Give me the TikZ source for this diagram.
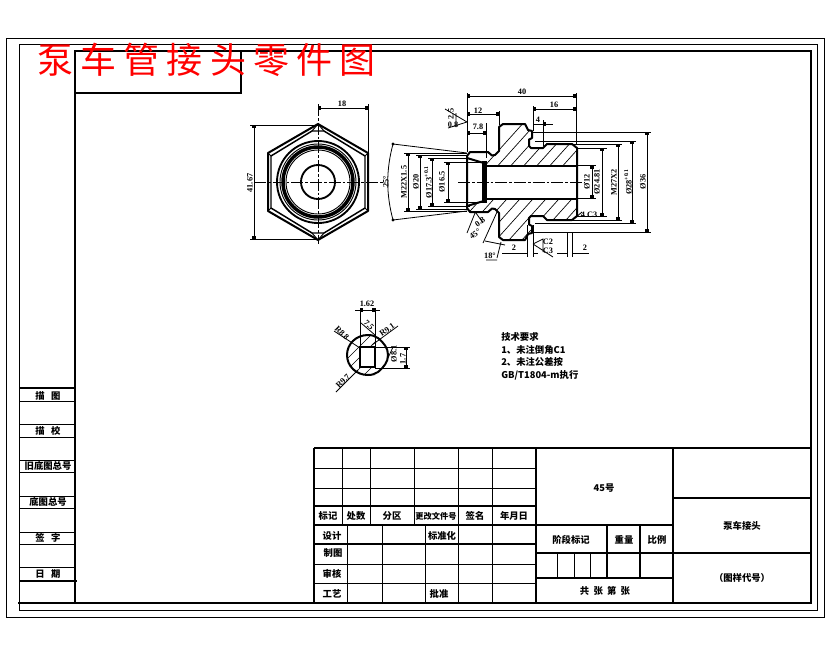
\documentclass[tikz,border=0pt]{standalone}
\usepackage{fontspec}
\usetikzlibrary{arrows.meta}
\setmainfont{Liberation Serif}
\newfontfamily\cjkf{Noto Sans CJK SC}
\newfontfamily\titlef[LetterSpace=20]{Noto Sans CJK SC}
\tikzset{
  thinln/.style={line width=0.75pt,line cap=butt},
  thickln/.style={line width=1.5pt,line cap=butt},
  frameln/.style={line width=1.6pt,line cap=rect},
  partln/.style={line width=1.5pt,line join=round},
  dimln/.style={line width=0.6pt,{Square[length=2.4pt,width=2.4pt]}-{Square[length=2.4pt,width=2.4pt]}},
  extln/.style={line width=0.6pt},
  centerln/.style={line width=0.6pt,dash pattern=on 9pt off 1.5pt on 2pt off 1.5pt},
  hatchln/.style={line width=0.5pt},
  dimtxt/.style={font=\fontsize{6.2}{7}\selectfont\bfseries,inner sep=0pt},
  celltxt/.style={font=\cjkf\fontsize{7}{8}\selectfont\bfseries,inner sep=0pt},
  notetxt/.style={font=\cjkf\fontsize{7}{10}\selectfont\bfseries,inner sep=0pt,anchor=west},
}
\newcommand\mydimv[3]{\draw[dimln] (#1,#2)--(#1,#3);}
\newcommand\mydimh[3]{\draw[dimln] (#2,#1)--(#3,#1);}
\newcommand\mylab[4]{\node[dimtxt,rotate=#3] at (#1,#2) {#4};}
\newcommand\mycell[3]{\node[celltxt] at (#1,#2) {#3};}
\newcommand\myhatch{\foreach \k in {0,...,22}{\draw[hatchln] ({400+13*\k},260)--({400+13*\k+126},120);}}
\begin{document}
\begin{tikzpicture}[x=0.75pt,y=-0.75pt]
\useasboundingbox (0,0) rectangle (830,654);
\fill[white] (0,0) rectangle (830,654);
% ---------- frames
\draw[thinln] (6,38) rectangle (824,617);
\draw[thinln] (19,44) rectangle (817,610);
\draw[frameln] (75,51) rectangle (811,603);
\draw[frameln] (19,603)--(75,603);
\draw[thickln] (75,93)--(241,93)--(241,51);
% left column
\foreach \y in {401,424,437,460,472,496,508,532,544,567}{\draw[thinln] (19,\y)--(75,\y);}
\draw[thickln] (19,388)--(75,388);
\draw[thickln] (19,581)--(77,581);
\mycell{48}{396}{描\ \ \ 图}
\mycell{48}{431}{描\ \ \ 校}
\mycell{48}{466}{旧底图总号}
\mycell{48}{502}{底图总号}
\mycell{48}{538}{签\ \ \ 字}
\mycell{48}{574}{日\ \ \ 期}
% ---------- title block
\draw[thickln] (314,448)--(811,448);
\draw[thickln] (314,448)--(314,603);
\draw[thickln] (536,448)--(536,603);
\draw[thickln] (673,448)--(673,603);
\foreach \y in {468,488,564,583}{\draw[thinln] (314,\y)--(536,\y);}
\draw[thickln] (314,506)--(537,506);
\draw[thickln] (314,525)--(673,525);
\draw[thickln] (314,544)--(537,544);
\foreach \x in {342,370,414}{\draw[thinln] (\x,448)--(\x,525);}
\foreach \x in {458,492}{\draw[thinln] (\x,448)--(\x,603);}
\foreach \x in {347,382,425}{\draw[thinln] (\x,525)--(\x,603);}
\draw[thickln] (673,498)--(811,498);
\draw[thickln] (536,553)--(811,553);
\draw[thickln] (536,578)--(673,578);
\foreach \x in {607,640}{\draw[thickln] (\x,525)--(\x,578);}
\foreach \x in {557,574,590}{\draw[thinln] (\x,553)--(\x,578);}
\mycell{328}{516}{标记}
\mycell{356}{516}{处数}
\mycell{392}{516}{分区}
\node[celltxt,font=\cjkf\fontsize{6.2}{8}\selectfont\bfseries] at (436,516) {更改文件号};
\mycell{475}{516}{签名}
\mycell{514}{516}{年月日}
\mycell{332}{536}{设计}
\mycell{442}{536}{标准化}
\mycell{333}{553}{制图}
\mycell{332}{574}{审核}
\mycell{332}{594}{工艺}
\mycell{439}{594}{批准}
\mycell{604}{488}{45号}
\mycell{571}{540}{阶段标记}
\mycell{624}{540}{重量}
\mycell{657}{540}{比例}
\mycell{605}{591}{共\ \ 张\ \ 第\ \ 张}
\mycell{742}{526}{泵车接头}
\mycell{742}{578}{（图样代号）}
% ---------- front view (hexagon)
\draw[partln] (318,124)--(368,153)--(368,211)--(318,240)--(268,211)--(268,153)--cycle;
\draw[partln,line width=1.1pt] (271,156)--(312,131)--(324,131)--(365,156)--(365,208)--(324,233)--(312,233)--(271,208)--cycle;
\draw[thinln] (318,124)--(312,131) (318,124)--(324,131) (318,240)--(312,233) (318,240)--(324,233);
\draw[thinln] (268,153)--(271,156) (368,153)--(365,156) (268,211)--(271,208) (368,211)--(365,208);
\draw[line width=1.4pt] (318,182) circle (41);
\draw[line width=0.7pt] (318,182) circle (38);
\draw[line width=2.6pt] (318,182) circle (35);
\draw[line width=0.7pt] (318,182) circle (32);
\draw[line width=1.4pt] (318,182) circle (17);
\draw[centerln] (254,182)--(384,182);
\draw[centerln] (318,104)--(318,244);
\draw[extln] (250,125)--(318,125) (250,239)--(318,239);
\mydimv{254}{125}{239}
\mylab{250}{183}{90}{41.67}
\draw[extln] (368,104)--(368,153);
\mydimh{108}{318}{368}
\mylab{342}{104}{0}{18}
% ---------- section view hatching
\begin{scope}
\clip (467,158)--(468,153)--(488,152)--(492,155.5)--(495,155)--(499,151)--(499,127)--(503,124)--(525,124)--(528,130)--(532,131)--(532,138)--(529,139.5)--(529,146)--(531,148)--(543,148)--(547,144)--(572,144)--(577,148)--(577,165.5)--(487,165.5)--(482,162.5)--cycle;
\myhatch
\end{scope}
\begin{scope}
\clip (467,206)--(468,211)--(488,212)--(492,208.5)--(495,209)--(499,213)--(499,237)--(503,240)--(525,240)--(528,234)--(532,233)--(532,226)--(529,224.5)--(529,218)--(531,216)--(543,216)--(547,220)--(572,220)--(577,216)--(577,198.5)--(487,198.5)--(482,201.5)--cycle;
\myhatch
\end{scope}
% section view outline (upper and mirrored lower)
\foreach \sc/\sh in {1/0,-1/364}{
\begin{scope}[shift={(0,\sh)},yscale=\sc]
\draw[partln] (467,182)--(467,156)--(470,152)--(488,152)--(492,155.5)--(495,155)--(499,151)--(499,127)--(503,124)--(525,124)--(528,130)--(532,131)--(532,138)--(529,139.5)--(529,146)--(531,148)--(543,148)--(547,144)--(572,144)--(577,148)--(577,182);
\draw[partln] (467,158)--(482,162.5);
\draw[partln] (487,165.5)--(577,165.5);
\draw[line width=2pt] (467,156)--(467,182) (577,148)--(577,182);
\end{scope}}
\fill (482,161) rectangle (487,203);
\draw[centerln] (458,182)--(585,182);
% top dimensions
\draw[extln] (467,93)--(467,152) (576,93)--(576,145) (533,106)--(533,131) (543,120)--(543,146) (499,111)--(499,125) (486,123)--(486,158);
\mydimh{96}{467}{576}
\mylab{522}{92}{0}{40}
\mydimh{109}{533}{576}
\mylab{554}{105}{0}{16}
\draw[extln,{Square[length=2.4pt,width=2.4pt]}-] (543,124)--(553,124);
\draw[extln] (533,124)--(543,124);
\mylab{538}{120}{0}{4}
\mydimh{114}{467}{499}
\mylab{478}{111}{0}{12}
\mydimh{133}{467}{486}
\mylab{478}{127}{0}{7.8}
% roughness left
\draw[extln] (445,109)--(467,122)--(448,128) (456,113)--(456,127);
\mylab{451}{114}{90}{2.5}
\mylab{453}{125}{0}{0.8}
% left dimensions
\draw[extln] (393,144)--(467,153) (393,220)--(467,211);
\draw[extln] (393,144) .. controls (386,170) and (386,194) .. (393,220);
\fill (393,144) circle (1.7) (393,220) circle (1.7);
\mylab{386}{182}{90}{25°}
\draw[extln] (404,153)--(467,153) (404,211)--(467,211);
\mydimv{408}{153}{211}
\mylab{404}{182}{90}{M22X1.5}
\draw[extln] (416,155)--(467,155) (416,209)--(467,209);
\mydimv{420}{155}{209}
\mylab{416}{182}{90}{Ø20}
\draw[extln] (428,158)--(470,158) (428,206)--(470,206);
\mydimv{432}{158}{206}
\mylab{428}{182}{90}{Ø17.3\textsuperscript{+0.1}}
\draw[extln] (444,162)--(482,162) (444,202)--(482,202);
\mydimv{448}{162}{202}
\mylab{442}{182}{90}{Ø16.5}
% bottom-left chamfer notes
\draw[extln] (475,213)--(467,233) (476,213)--(483,223) (497,212)--(483,243);
\mylab{480}{222}{35}{0.8}
\mylab{475}{234}{35}{45°}
\draw[extln] (485,241)--(505,245) (501,242)--(497,258) (486,260)--(497,260);
\mylab{490}{256}{0}{18°}
% bottom dimensions
\draw[extln] (527,225)--(527,257) (533,225)--(533,257) (567,233)--(567,257) (572,233)--(572,257);
\draw[extln] (502,253)--(527,253) (533,253)--(538,253) (557,253)--(567,253) (572,253)--(589,253);
\mylab{514}{248}{0}{2}
\mylab{585}{248}{0}{2}
\draw[extln] (533,244)--(543,239)--(543,252) (533,244)--(553,257);
\mylab{548}{242}{0}{C2}
\mylab{548}{251}{0}{C3}
% right dimensions
\draw[extln] (577,165.5)--(596,165.5) (577,198.5)--(596,198.5);
\mydimv{592}{165.5}{198.5}
\mylab{587}{182}{90}{Ø12}
\draw[extln] (577,148)--(607,148) (577,216)--(607,216);
\mydimv{602}{148}{216}
\mylab{597}{182}{90}{Ø24.81}
\draw[extln] (572,144)--(622,144) (572,220)--(622,220);
\mydimv{618}{144}{220}
\mylab{614}{182}{90}{M27X2}
\draw[extln] (535,141)--(636,141) (535,223)--(636,223);
\mydimv{632}{141}{223}
\mylab{628}{182}{90}{Ø28\textsuperscript{+0.1}}
\draw[extln] (532,132)--(651,132) (532,232)--(651,232);
\mydimv{647}{132}{232}
\mylab{643}{182}{90}{Ø36}
\draw[extln] (575,218)--(582,212);
\mylab{589}{215}{0}{4\ C3}
% ---------- small section
\begin{scope}
\clip (375,335)--(368,335) .. controls (356,335) and (347,344) .. (347,355) .. controls (347,366) and (356,375) .. (368,375)--(375,375)--cycle;
\foreach \k in {0,...,7}{\draw[hatchln] ({326+11*\k},380)--({326+11*\k+50},330);}
\end{scope}
\fill[white] (360,347) rectangle (375,367);
\draw[partln] (368,335) .. controls (356,335) and (347,344) .. (347,355) .. controls (347,366) and (356,375) .. (368,375) .. controls (372,375) and (375,374) .. (378,372) .. controls (384,367) and (388,362) .. (388,355) .. controls (388,348) and (384,343) .. (378,338) .. controls (375,336) and (372,335) .. (368,335) --cycle;
\draw[line width=1.8pt] (360,347) rectangle (375,367);
\draw[extln] (360,308)--(360,347) (375,308)--(375,347);
\draw[extln] (355,310)--(360,310) (375,310)--(380,310);
\mydimh{310}{360}{375}
\mylab{367}{304}{0}{1.62}
\draw[extln] (361,323)--(375,335);
\mylab{369}{325}{-45}{7.5}
\draw[extln] (334,331)--(360,348);
\mylab{342}{333}{-45}{R8.8}
\draw[extln] (398,326)--(372,345);
\mylab{387}{330}{35}{R9.1}
\draw[extln] (336,392)--(358,370);
\mylab{343}{381}{45}{R9.7}
\draw[extln] (375,347)--(410,347) (375,368)--(410,368);
\mydimv{406}{347}{368}
\mylab{403}{359}{90}{1.7}
\draw[extln] (388,358)--(393,347);
\mylab{394}{354}{90}{Ø8.1}
% ---------- notes
\node[notetxt] at (501,337) {技术要求};
\node[notetxt] at (501,350) {1、未注倒角C1};
\node[notetxt] at (501,362) {2、未注公差按};
\node[notetxt] at (501,375) {GB/T1804-m执行};
% ---------- red title
\node[anchor=west,inner sep=0pt,text=red,font=\titlef\fontsize{27}{30}\selectfont] at (37,60) {泵车管接头零件图};
\end{tikzpicture}
\end{document}
